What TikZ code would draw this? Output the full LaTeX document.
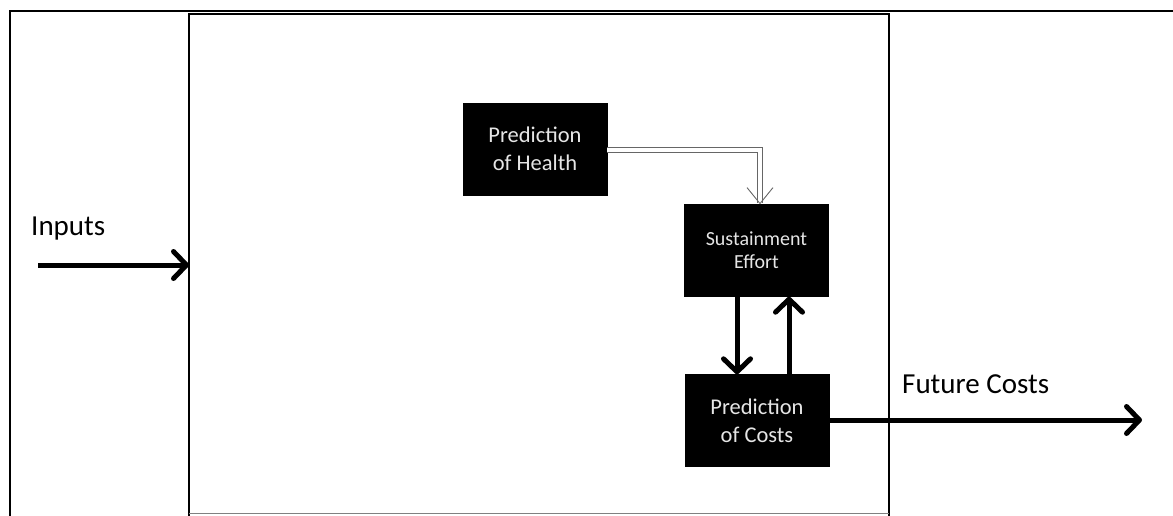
\documentclass[tikz,border=0pt]{standalone}
\usepackage{fontspec}
\setmainfont{Carlito}
\usetikzlibrary{arrows.meta}
\begin{document}
\begin{tikzpicture}[x=1pt,y=-1pt,
  block/.style={draw=black,fill=black,text=white!90!black,minimum width=144pt,
    minimum height=92pt,align=center,inner sep=0pt},
  flow/.style={line width=5pt,-{Straight Barb[length=13pt,width=27pt,line width=5pt,round]}},
  frame/.style={line width=1.6pt},
  hollow/.style={draw=black!60,line width=0.9pt,double=white,double distance=3.5pt,
    -{Straight Barb[length=16pt,width=26pt,line width=0.9pt]}},
  lbl/.style={font=\fontsize{29}{34}\selectfont,inner sep=0pt}]
\useasboundingbox (0,0) rectangle (1173,515);
% outer frame and inner system boundary
\draw[frame] (10,516) -- (10,11) -- (1175,11);
\draw[frame] (189,516) -- (189,14) -- (889,14) -- (889,516);
\draw[black!50,line width=1pt] (189,513.5) -- (889,513.5);
% blocks
\node[block,font=\fontsize{22.5}{28}\selectfont] (health) at (535,149) {Prediction\\of Health};
\node[block,font=\fontsize{20}{23}\selectfont] (sust) at (756.5,250.5) {Sustainment\\Effort};
\node[block,font=\fontsize{22.5}{28}\selectfont] (costs) at (757,420.5) {Prediction\\of Costs};
% connectors
\coordinate (inA) at (38,265);
\coordinate (inB) at (189,265);
\draw[flow] (inA) -- (inB);
\node[lbl,anchor=west] (inputs) at (31,229) {Inputs};
\draw[hollow] (health.east |- 0,150) -| (sust.north -| 760,0);
\draw[flow] (sust.south -| 737,0) -- (costs.north -| 737,0);
\draw[flow] (costs.north -| 789,0) -- (sust.south -| 789,0);
\coordinate (out) at (1142,420);
\draw[flow] (costs.east |- out) -- (out);
\node[lbl,anchor=west] (future) at (902,384) {Future Costs};
\end{tikzpicture}
\end{document}
